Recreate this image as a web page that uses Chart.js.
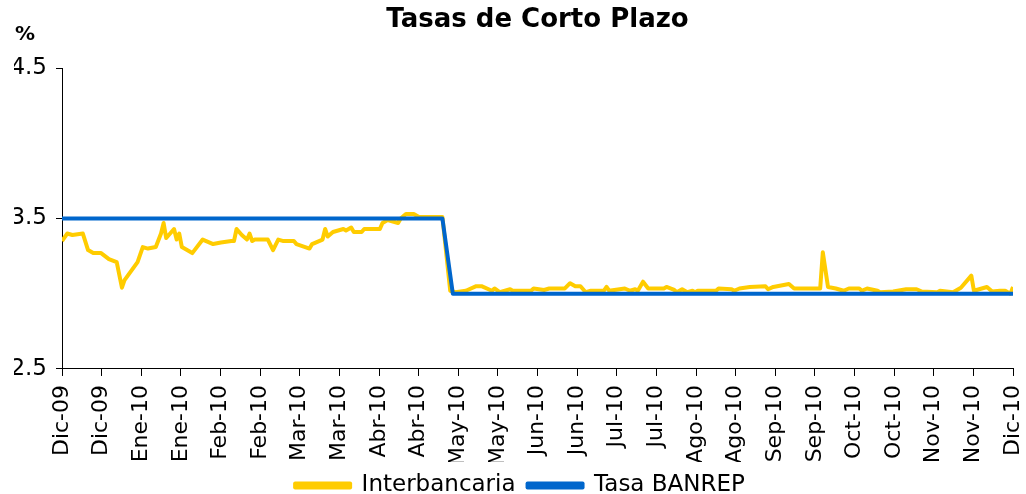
<!DOCTYPE html>
<html>
<head>
<meta charset="utf-8">
<script src="https://cdn.jsdelivr.net/npm/chart.js@4/dist/chart.umd.min.js"></script>
<style>
  html, body { margin: 0; padding: 0; background: #fff; }
  #wrap { width: 1026px; height: 494px; position: relative; }
</style>
</head>
<body>
<div id="wrap"><canvas id="ratesChart"></canvas></div>
<script>
// tick labels, two per month, day 0 = first tick, 365 = last
const tickLabels = ['Dic-09', 'Dic-09', 'Ene-10', 'Ene-10', 'Feb-10', 'Feb-10', 'Mar-10', 'Mar-10',
    'Abr-10', 'Abr-10', 'May-10', 'May-10', 'Jun-10', 'Jun-10', 'Jul-10', 'Jul-10',
    'Ago-10', 'Ago-10', 'Sep-10', 'Sep-10', 'Oct-10', 'Oct-10', 'Nov-10', 'Nov-10', 'Dic-10'];
const spanDays = 365;

// interbank rate (day, %)
const interDays = [0, 2, 4, 8, 10, 12, 15, 18, 21, 23, 24, 29, 31, 33, 36, 38, 39, 40, 43, 44, 45, 46,
    50, 54, 58, 61, 65, 66, 67, 69, 71, 72, 73, 74, 79, 81, 83, 85, 89, 90, 95, 96, 100, 101, 102,
    104, 108, 109, 111, 112, 115, 116, 122, 123, 125, 129, 130, 132, 135, 137, 146, 149,
    151, 155, 159, 161, 165, 166, 168, 172, 173, 180, 181, 185, 187, 193, 195, 197, 199, 201,
    203, 208, 209, 210, 216, 218, 220, 221, 223, 225, 231, 232, 235, 236, 238, 240, 242, 243,
    244, 251, 252, 257, 258, 260, 264, 270, 271, 273, 279, 281, 291, 292, 294, 297, 300, 302,
    306, 307, 309, 313, 314, 319, 324, 328, 330, 336, 337, 342, 345, 349, 350, 355, 357, 360,
    362, 364, 365];
const interValues = [3.35, 3.40, 3.39, 3.40, 3.29, 3.27, 3.27, 3.23, 3.21, 3.04, 3.09, 3.21, 3.31, 3.30, 3.31, 3.40, 3.47, 3.37, 3.43, 3.36, 3.40, 3.31,
    3.27, 3.36, 3.33, 3.34, 3.35, 3.35, 3.43, 3.39, 3.36, 3.40, 3.35, 3.36, 3.36, 3.29, 3.36, 3.35, 3.35, 3.33, 3.30, 3.33, 3.36, 3.43, 3.38,
    3.41, 3.43, 3.42, 3.44, 3.41, 3.41, 3.43, 3.43, 3.47, 3.49, 3.47, 3.50, 3.53, 3.53, 3.51, 3.51, 3.02,
    3.01, 3.02, 3.05, 3.05, 3.02, 3.035, 3.01, 3.03, 3.02, 3.02, 3.035, 3.025, 3.035, 3.035, 3.07, 3.05, 3.05, 3.01,
    3.02, 3.02, 3.045, 3.02, 3.035, 3.02, 3.03, 3.02, 3.08, 3.035, 3.035, 3.045, 3.025, 3.01, 3.03, 3.01, 3.02, 3.01,
    3.02, 3.02, 3.035, 3.03, 3.02, 3.035, 3.045, 3.05, 3.03, 3.045, 3.065, 3.035, 3.035, 3.275, 3.045, 3.035, 3.02, 3.035,
    3.035, 3.02, 3.035, 3.02, 3.01, 3.015, 3.03, 3.03, 3.015, 3.01, 3.02, 3.01, 3.04, 3.12, 3.02, 3.045, 3.015, 3.02,
    3.02, 3.00, 3.045];

// central bank policy rate (day, %)
const banrepDays = [0, 146, 150, 365];
const banrepValues = [3.5, 3.5, 3.0, 3.0];

const yTicks = [2.5, 3.5, 4.5];

const toPoints = (days, vals) => days.map((d, i) => ({x: d, y: vals[i]}));

const fontFamily = '"DejaVu Sans", Verdana, sans-serif';

// title is centred over the plot area, "%" sits above the y axis
const headerText = {
    id: 'headerText',
    afterDraw(chart) {
        const {ctx, chartArea} = chart;
        ctx.save();
        ctx.fillStyle = '#000';
        ctx.textAlign = 'center';
        ctx.textBaseline = 'middle';
        ctx.font = 'bold 26px ' + fontFamily;
        ctx.fillText('Tasas de Corto Plazo', (chartArea.left + chartArea.right) / 2, 20);
        ctx.font = 'bold 20px ' + fontFamily;
        ctx.fillText('%', chartArea.left - 37, 35);
        ctx.restore();
    }
};

var ctx = document.getElementById('ratesChart');
new Chart(ctx, {
    type: 'line',
    data: {
        datasets: [{
            label: 'Interbancaria',
            data: toPoints(interDays, interValues),
            borderColor: '#FFCC00',
            backgroundColor: '#FFCC00',
            borderWidth: 4,
            borderJoinStyle: 'round',
            pointRadius: 0,
            tension: 0,
            order: 2
        }, {
            label: 'Tasa BANREP',
            data: toPoints(banrepDays, banrepValues),
            borderColor: '#0066CC',
            backgroundColor: '#0066CC',
            borderWidth: 4,
            borderJoinStyle: 'round',
            pointRadius: 0,
            tension: 0,
            order: 1
        }]
    },
    options: {
        responsive: true,
        maintainAspectRatio: false,
        animation: false,
        layout: { padding: { left: 14, right: 0, top: 68, bottom: -13 } },
        plugins: {
            title: { display: false },
            legend: {
                position: 'bottom',
                labels: {
                    color: '#000',
                    font: { family: fontFamily, size: 23 },
                    boxWidth: 55,
                    boxHeight: 4,
                    padding: 12,
                    sort: (a, b) => a.datasetIndex - b.datasetIndex
                }
            },
            tooltip: { enabled: false }
        },
        scales: {
            x: {
                type: 'linear',
                min: 0,
                max: spanDays,
                afterBuildTicks: s => {
                    s.ticks = tickLabels.map((_, i) => ({ value: i * spanDays / (tickLabels.length - 1) }));
                },
                afterFit: s => {
                    s.height -= 13;
                    s.paddingLeft = 0;
                    s.paddingRight = 13;
                },
                ticks: {
                    autoSkip: false,
                    minRotation: 90,
                    maxRotation: 90,
                    color: '#000',
                    padding: 9,
                    font: { family: fontFamily, size: 22 },
                    callback: (v, i) => tickLabels[i]
                },
                grid: { drawOnChartArea: false, color: '#000', tickLength: 7 },
                border: { color: '#000', width: 1 }
            },
            y: {
                min: 2.5,
                max: 4.5,
                afterBuildTicks: s => { s.ticks = yTicks.map(v => ({ value: v })); },
                afterFit: s => { s.width = 48; },
                ticks: {
                    color: '#000',
                    padding: 9,
                    font: { family: fontFamily, size: 23 },
                    callback: v => v.toFixed(1)
                },
                grid: { drawOnChartArea: false, color: '#000', tickLength: 6 },
                border: { color: '#000', width: 1 }
            }
        }
    },
    plugins: [headerText]
});
</script>
</body>
</html>
